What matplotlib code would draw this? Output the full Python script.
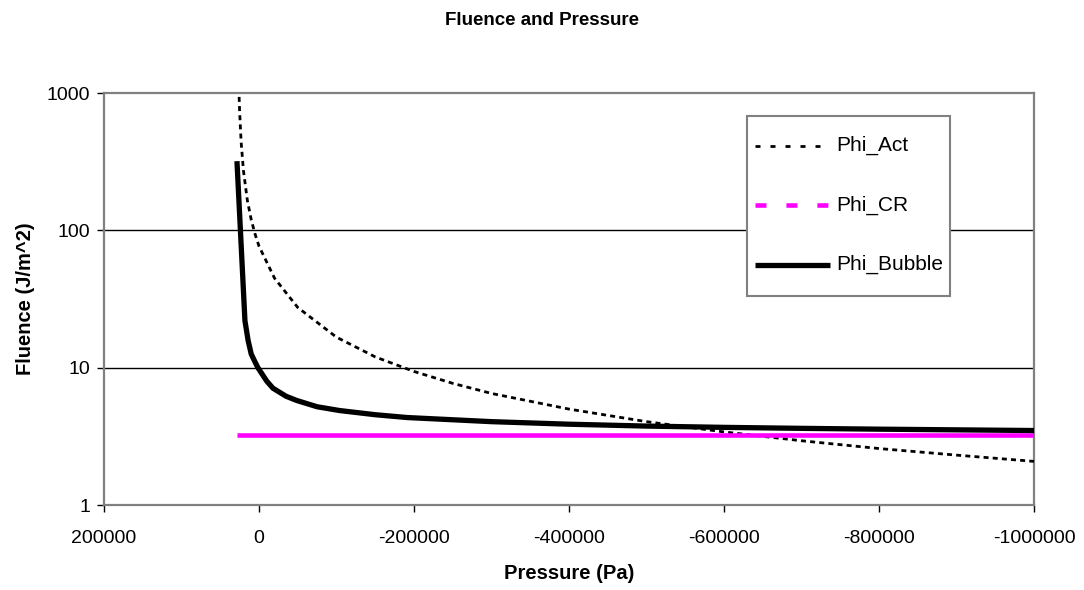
import matplotlib
matplotlib.use("Agg")
import matplotlib.pyplot as plt
from matplotlib.patches import Rectangle
from matplotlib.ticker import FixedLocator, NullLocator, FuncFormatter

plt.rcParams['font.family'] = ['Liberation Sans', 'DejaVu Sans']

# values
p_act = [25600, 25000, 23000, 20000, 15000, 10000, 5000, 0, -20000, -50000,
         -100000, -150000, -200000, -250000, -300000, -400000, -500000,
         -600000, -700000, -800000, -900000, -1000000]
phi_act = [940, 745, 440, 272, 166, 120, 94, 77, 45, 27.5,
           16.7, 12.0, 9.4, 7.7, 6.5, 5.0, 4.05,
           3.41, 2.94, 2.58, 2.31, 2.08]

p_bub = [28400, 18100, 14000, 10000, 5000, 1300, -10000, -18000, -35000, -49000,
         -75000, -104000, -150000, -191000, -300000, -400000, -500000,
         -600000, -700000, -800000, -900000, -1000000]
phi_bub = [320, 22, 15.8, 12.6, 11.0, 10.0, 8.0, 7.1, 6.2, 5.77,
           5.2, 4.88, 4.55, 4.34, 4.05, 3.88, 3.76,
           3.68, 3.62, 3.57, 3.53, 3.49]

p_cr = [28400, -1000000]
phi_cr = [3.22, 3.22]

x_ticks = [200000, 0, -200000, -400000, -600000, -800000, -1000000]
y_ticks = [1, 10, 100, 1000]

labels = ['Phi_Act', 'Phi_CR', 'Phi_Bubble']
styles = [
    dict(color='black', lw=2.0, ls=(0, (1.8, 3.6))),
    dict(color='#FF00FF', lw=3.3, ls=(0, (2.4, 4.35))),
    dict(color='black', lw=3.8, ls='-'),
]

fig = plt.figure(figsize=(10.84, 5.90), dpi=100)
ax = fig.add_axes([0.0959, 0.144, 0.858, 0.698])

ax.plot(p_act, phi_act, color='black', lw=2.0, ls=(0, (1.8, 1.5)), zorder=3)
ax.plot(p_cr, phi_cr, color='#FF00FF', lw=3.3, solid_capstyle='butt', zorder=3)
ax.plot(p_bub, phi_bub, color='black', lw=3.8, solid_capstyle='butt',
        solid_joinstyle='round', zorder=4)

ax.set_yscale('log')
ax.set_ylim(1, 1000)
ax.set_xlim(200000, -1000000)
ax.xaxis.set_major_locator(FixedLocator(x_ticks))
ax.yaxis.set_major_locator(FixedLocator(y_ticks))
ax.yaxis.set_minor_locator(NullLocator())
ax.yaxis.set_major_formatter(FuncFormatter(lambda v, pos: '%d' % v))
ax.xaxis.set_major_formatter(FuncFormatter(lambda v, pos: '%d' % v))

for v in [10, 100]:
    ax.axhline(v, color='black', lw=1.0, zorder=1)

for s in ax.spines.values():
    s.set_color('#808080')
    s.set_linewidth(1.6)

ax.tick_params(axis='both', direction='out', length=5, width=1, color='black',
               labelsize=14, pad=5)
ax.tick_params(axis='x', pad=13)

ax.set_xlabel('Pressure (Pa)', fontsize=14.5, fontweight='bold', labelpad=12)
ax.set_ylabel('Fluence (J/m^2)', fontsize=14.5, fontweight='bold', labelpad=8)
fig.text(0.5, 0.966, 'Fluence and Pressure', ha='center', va='center',
         fontsize=13.5, fontweight='bold')

# legend box drawn by hand (Excel style: tall rows, tight sides)
ax.add_patch(Rectangle((0.6914, 0.5073), 0.2183, 0.4369, transform=ax.transAxes,
                       facecolor='white', edgecolor='#808080', lw=1.5, zorder=5))
row_y = [0.873, 0.728, 0.584]
for lab, st, yy in zip(labels, styles, row_y):
    ax.plot([0.700, 0.7806], [yy, yy], transform=ax.transAxes, zorder=6,
            solid_capstyle='butt', dash_capstyle='butt', **st)
    ax.text(0.787, yy, lab, transform=ax.transAxes, fontsize=15,
            va='center', ha='left', zorder=6)

fig.savefig('out.png', dpi=100)
